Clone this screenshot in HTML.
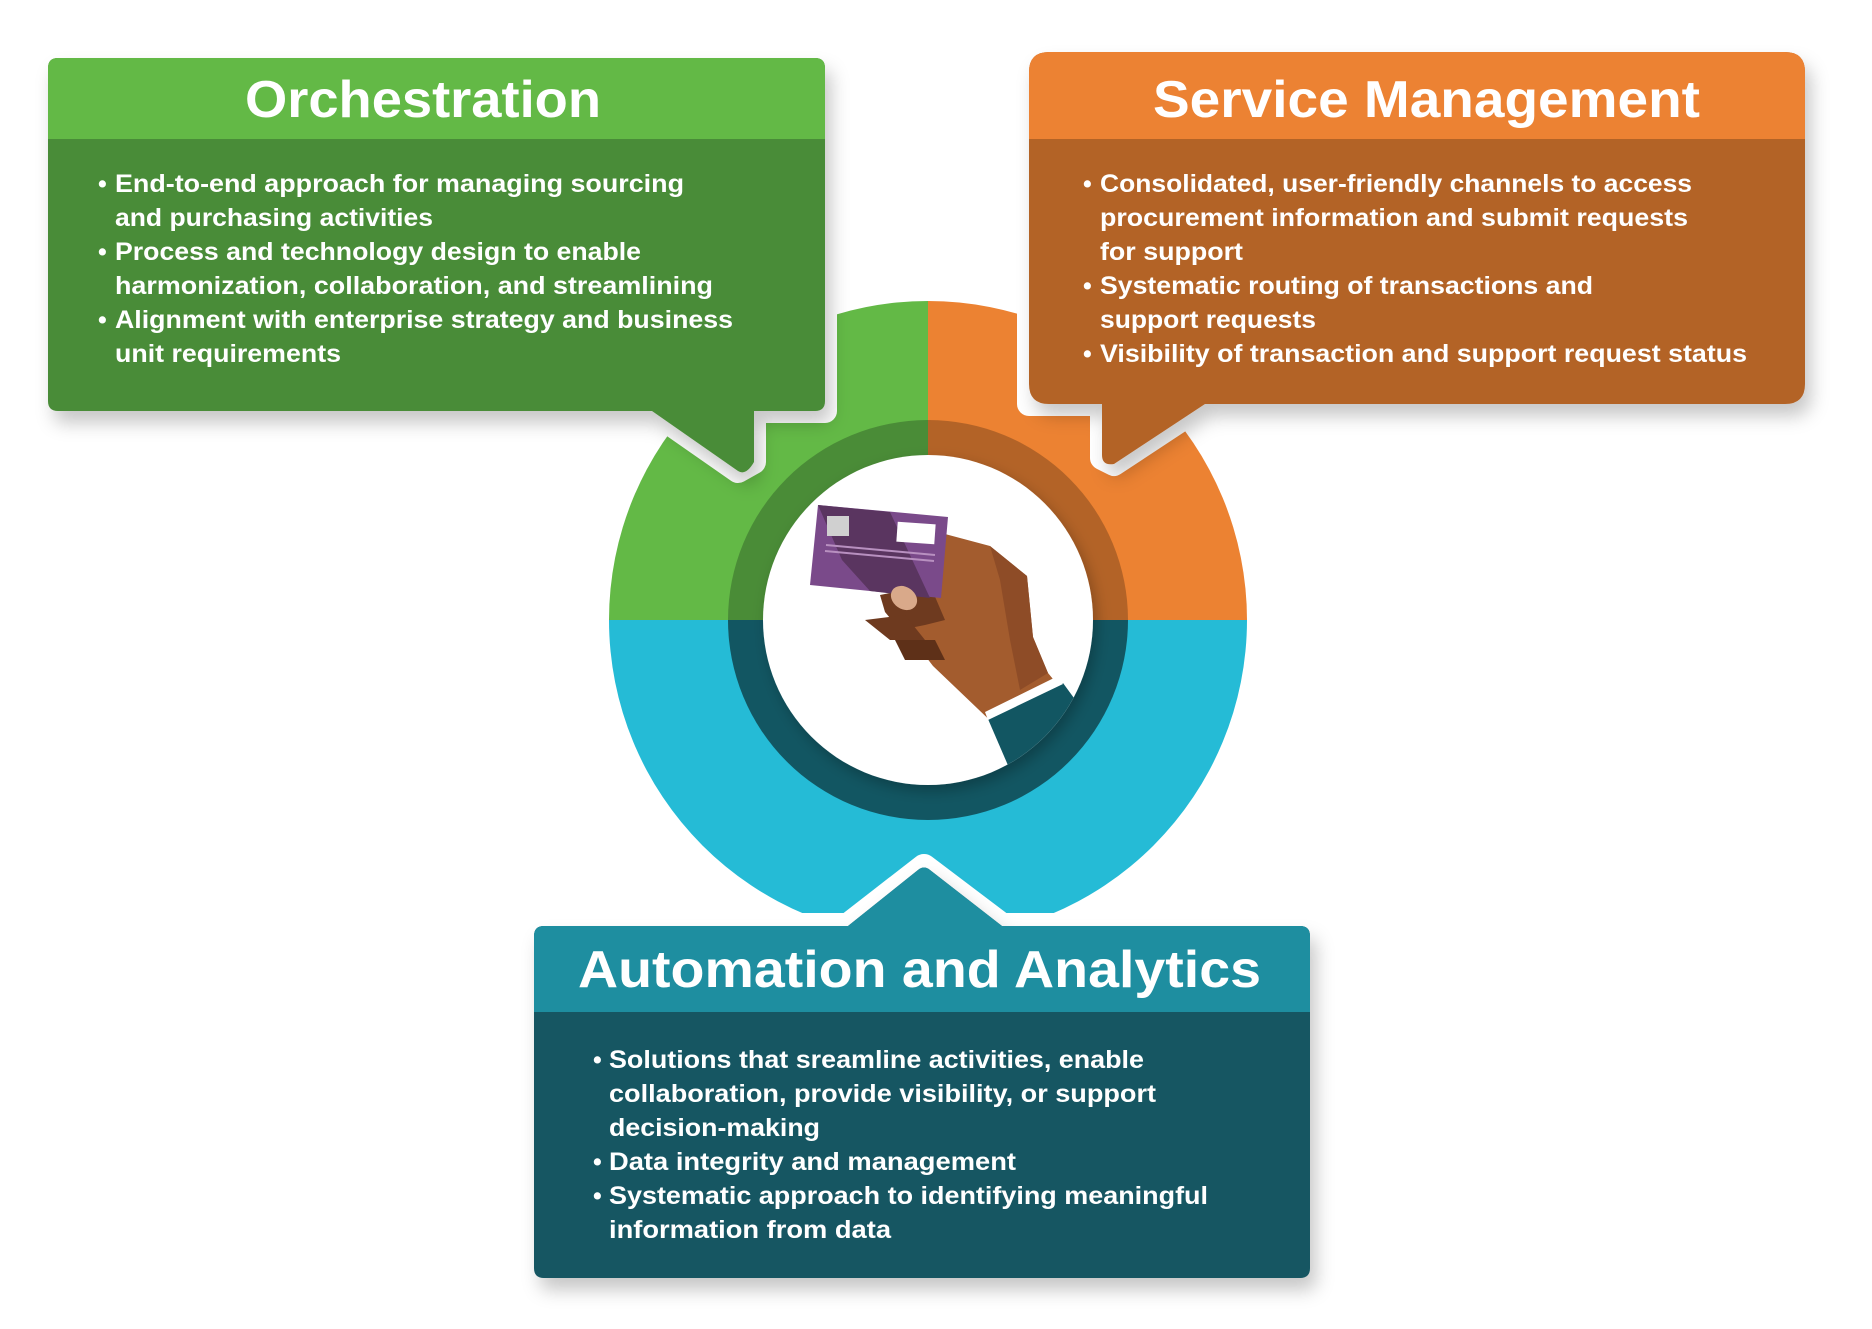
<!DOCTYPE html>
<html><head><meta charset="utf-8"><style>
html,body{margin:0;padding:0;background:#fff;}
svg{display:block;}
text{font-family:"Liberation Sans",Arial,sans-serif;font-weight:bold;fill:#fff;}
.t{font-size:52px;}
.b{font-size:25px;}
</style></head><body>
<svg width="1872" height="1329" viewBox="0 0 1872 1329" xmlns="http://www.w3.org/2000/svg">
<defs>
<filter id="sh" x="-10%" y="-10%" width="130%" height="140%"><feDropShadow dx="6" dy="12" stdDeviation="9" flood-color="#000" flood-opacity="0.22"/></filter>
<filter id="sh2" x="-20%" y="-20%" width="140%" height="140%"><feDropShadow dx="4" dy="6" stdDeviation="7" flood-color="#000" flood-opacity="0.25"/></filter>
<clipPath id="inner"><circle cx="928" cy="620" r="165"/></clipPath>
</defs>

<!-- big circle -->
<path d="M928,620 L928,301 A319,319 0 0 0 609,620 Z" fill="#63b946"/>
<path d="M928,620 L928,301 A319,319 0 0 1 1247,620 Z" fill="#ec8232"/>
<path d="M609,620 A319,319 0 0 0 1247,620 Z" fill="#25bbd6"/>
<path d="M928,620 L928,420 A200,200 0 0 0 728,620 Z" fill="#4a8c37"/>
<path d="M928,620 L928,420 A200,200 0 0 1 1128,620 Z" fill="#b36327"/>
<path d="M728,620 A200,200 0 0 0 1128,620 Z" fill="#125662"/>
<circle cx="928" cy="620" r="165" fill="#fff" filter="url(#sh2)"/>

<!-- hand & card -->
<g clip-path="url(#inner)">
<path d="M930,530 L990,546 L1027,576 L1033,637 L1048,673 L1062,690 L1000,730 L933,666 L900,623 L887,598 L915,590 Z" fill="#a35c2e"/>
<path d="M990,546 L1027,576 L1033,637 L1048,673 L1020,690 L1010,640 L1000,580 Z" fill="#8e4c27"/>
<path d="M880,595 L930,585 L945,620 L925,625 L900,630 L885,612 Z" fill="#6e3a1f"/>
<path d="M865,620 L905,615 L925,640 L890,640 Z" fill="#6e3a1f"/>
<path d="M895,640 L935,640 L945,660 L905,660 Z" fill="#5e3018"/>
<path d="M988,719 L1063,683 L1090,720 L1010,770 Z" fill="#125662"/>
<path d="M985,712 L1058,676 L1063,684 L988,720 Z" fill="#fff"/>
<polygon points="818,505 948,517 941,598 810,585" fill="#7a4a8a"/>
<polygon points="818,505 890,512 930,598 870,591 842,560" fill="#5a3560"/>
<rect x="827" y="516" width="22" height="20" fill="#d0d0d0"/>
<rect x="897" y="523" width="38" height="20" fill="#fff" transform="rotate(4 916 533)"/>
<line x1="826" y1="545" x2="935" y2="555" stroke="#b890c0" stroke-width="2"/>
<line x1="825" y1="551" x2="934" y2="561" stroke="#b890c0" stroke-width="2"/>
<ellipse cx="904" cy="598" rx="14" ry="11" fill="#d9a98a" transform="rotate(35 904 598)"/>
</g>

<!-- white gaps -->
<path d="M48,58 H825 V411 H754 V462 L738,471 L652,411 H48 Z" fill="#fff" stroke="#fff" stroke-width="24" stroke-linejoin="round"/>
<path d="M1029,52 H1805 V404 H1205 L1114,464 L1102,458 V404 H1029 Z" fill="#fff" stroke="#fff" stroke-width="24" stroke-linejoin="round"/>
<path d="M534,926 H848 L924,867 L1002,926 H1310 V1278 H534 Z" fill="#fff" stroke="#fff" stroke-width="26" stroke-linejoin="round"/>

<!-- Orchestration box -->
<g filter="url(#sh)">
<path d="M58,58 H815 Q825,58 825,68 V401 Q825,411 815,411 H754 V462 Q746,476 738,471 L652,411 H58 Q48,411 48,401 V68 Q48,58 58,58 Z" fill="#4a8c37"/>
</g>
<path d="M58,58 H815 Q825,58 825,68 V139 H48 V68 Q48,58 58,58 Z" fill="#63b946"/>
<text class="t" x="245" y="117" textLength="356" lengthAdjust="spacingAndGlyphs">Orchestration</text>
<g class="b">
<text x="98" y="192">•</text>
<text x="115" y="192" textLength="569" lengthAdjust="spacingAndGlyphs">End-to-end approach for managing sourcing</text>
<text x="115" y="226" textLength="318" lengthAdjust="spacingAndGlyphs">and purchasing activities</text>
<text x="98" y="260">•</text>
<text x="115" y="260" textLength="526" lengthAdjust="spacingAndGlyphs">Process and technology design to enable</text>
<text x="115" y="294" textLength="598" lengthAdjust="spacingAndGlyphs">harmonization, collaboration, and streamlining</text>
<text x="98" y="328">•</text>
<text x="115" y="328" textLength="618" lengthAdjust="spacingAndGlyphs">Alignment with enterprise strategy and business</text>
<text x="115" y="362" textLength="226" lengthAdjust="spacingAndGlyphs">unit requirements</text>
</g>

<!-- Service Management box -->
<g filter="url(#sh)">
<path d="M1049,52 H1785 Q1805,52 1805,72 V384 Q1805,404 1785,404 H1205 L1114,464 Q1102,466 1102,455 V404 H1049 Q1029,404 1029,384 V72 Q1029,52 1049,52 Z" fill="#b36327"/>
</g>
<path d="M1049,52 H1785 Q1805,52 1805,72 V139 H1029 V72 Q1029,52 1049,52 Z" fill="#ec8233"/>
<text class="t" x="1153" y="117" textLength="547" lengthAdjust="spacingAndGlyphs">Service Management</text>
<g class="b">
<text x="1083" y="192">•</text>
<text x="1100" y="192" textLength="592" lengthAdjust="spacingAndGlyphs">Consolidated, user-friendly channels to access</text>
<text x="1100" y="226" textLength="588" lengthAdjust="spacingAndGlyphs">procurement information and submit requests</text>
<text x="1100" y="260" textLength="143" lengthAdjust="spacingAndGlyphs">for support</text>
<text x="1083" y="294">•</text>
<text x="1100" y="294" textLength="493" lengthAdjust="spacingAndGlyphs">Systematic routing of transactions and</text>
<text x="1100" y="328" textLength="216" lengthAdjust="spacingAndGlyphs">support requests</text>
<text x="1083" y="362">•</text>
<text x="1100" y="362" textLength="647" lengthAdjust="spacingAndGlyphs">Visibility of transaction and support request status</text>
</g>

<!-- Automation box -->
<g filter="url(#sh)">
<path d="M544,926 H848 L918,870 Q924,865 930,870 L1002,926 H1300 Q1310,926 1310,936 V1268 Q1310,1278 1300,1278 H544 Q534,1278 534,1268 V936 Q534,926 544,926 Z" fill="#125662"/>
</g>
<path d="M544,926 H848 L918,870 Q924,865 930,870 L1002,926 H1300 Q1310,926 1310,936 V1012 H534 V936 Q534,926 544,926 Z" fill="#1e8ea0"/>
<text class="t" x="578" y="987" textLength="683" lengthAdjust="spacingAndGlyphs">Automation and Analytics</text>
<g class="b">
<text x="593" y="1068">•</text>
<text x="609" y="1068" textLength="535" lengthAdjust="spacingAndGlyphs">Solutions that sreamline activities, enable</text>
<text x="609" y="1102" textLength="547" lengthAdjust="spacingAndGlyphs">collaboration, provide visibility, or support</text>
<text x="609" y="1136" textLength="211" lengthAdjust="spacingAndGlyphs">decision-making</text>
<text x="593" y="1170">•</text>
<text x="609" y="1170" textLength="407" lengthAdjust="spacingAndGlyphs">Data integrity and management</text>
<text x="593" y="1204">•</text>
<text x="609" y="1204" textLength="599" lengthAdjust="spacingAndGlyphs">Systematic approach to identifying meaningful</text>
<text x="609" y="1238" textLength="282" lengthAdjust="spacingAndGlyphs">information from data</text>
</g>
</svg>
</body></html>
